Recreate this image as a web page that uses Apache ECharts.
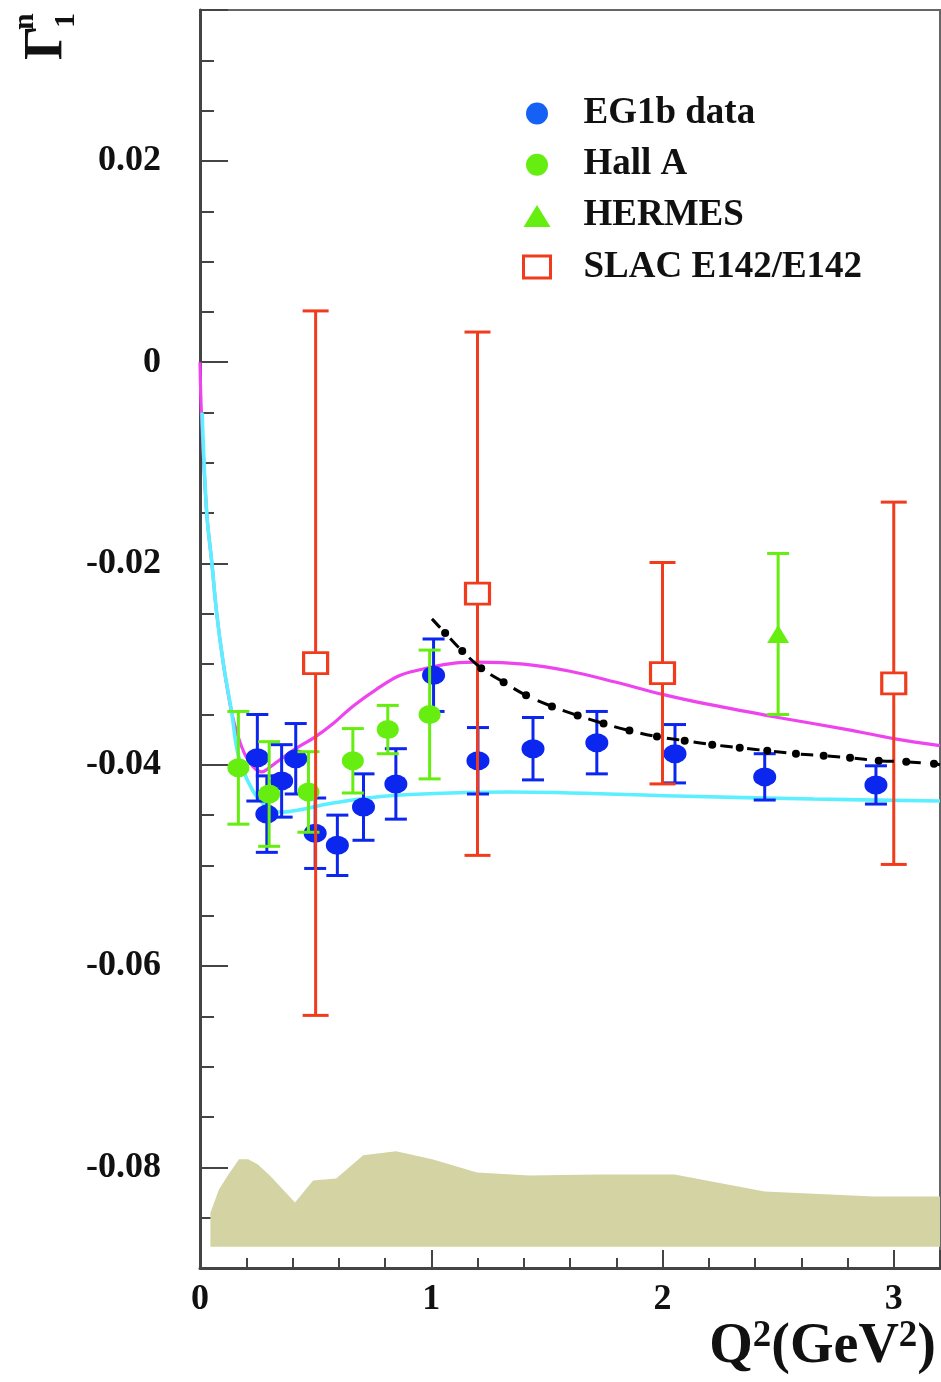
<!DOCTYPE html>
<html>
<head>
<meta charset="utf-8">
<script src="https://cdn.jsdelivr.net/npm/echarts@6/dist/echarts.min.js"></script>
<style>html,body{margin:0;padding:0;background:#fff;}#chart{width:941px;height:1382px;}</style>
</head>
<body>
<div id="chart"></div>
<script>
// ---------- data ----------
// EG1b data: [Q2, Gamma1n, stat error]
const eg1bPoints = [
  [0.248,-0.0393,0.0043],[0.289,-0.0449,0.0038],[0.353,-0.0416,0.0036],[0.414,-0.0394,0.0035],
  [0.498,-0.0468,0.0035],[0.594,-0.0480,0.0030],[0.707,-0.0442,0.0033],[0.847,-0.0419,0.0035],
  [1.010,-0.0311,0.0036],[1.202,-0.0396,0.0033],[1.440,-0.0384,0.0031],[1.716,-0.0378,0.0031],
  [2.054,-0.0389,0.0029],[2.442,-0.0412,0.0023],[2.923,-0.0420,0.0019]
];
const hallAPoints = [
  [0.166,-0.0403,0.0056],[0.299,-0.0429,0.0052],[0.469,-0.0427,0.0040],
  [0.661,-0.0396,0.0032],[0.812,-0.0365,0.0024],[0.993,-0.0350,0.0064]
];
const hermesPoints = [[2.5,-0.0270,0.0080]];
const slacPoints = [[0.5,-0.0299,0.035],[1.2,-0.0230,0.026],[2.0,-0.0309,0.011],[3.0,-0.0319,0.018]];

// systematic error band (top edge), bottom edge constant
const bandQ2  = [0.045,0.082,0.123,0.169,0.208,0.249,0.302,0.411,0.489,0.589,0.706,0.848,1.004,1.198,1.424,1.719,2.052,2.442,2.913,3.2];
const bandTop = [-0.0845,-0.0822,-0.0807,-0.0792,-0.0792,-0.0797,-0.0808,-0.0835,-0.0813,-0.0811,-0.0788,-0.0784,-0.0792,-0.0805,-0.0808,-0.0807,-0.0807,-0.0824,-0.0829,-0.0829];
const bandBase = -0.0879;

// magenta model curve
const magQ2  = [0,0.006,0.029,0.051,0.072,0.1,0.137,0.165,0.195,0.23,0.267,0.31,0.4,0.5,0.576,0.66,0.763,0.866,1.0,1.1,1.2,1.4,1.6,1.8,2.0,2.2,2.5,2.8,3.0,3.2];
const magVal = [0,-0.005,-0.015,-0.0199,-0.0249,-0.0298,-0.0348,-0.0372,-0.0390,-0.0402,-0.0407,-0.0401,-0.0386,-0.0372,-0.0359,-0.0342,-0.0325,-0.0311,-0.0303,-0.0299,-0.0298,-0.0300,-0.0307,-0.0318,-0.0330,-0.0340,-0.0353,-0.0365,-0.0374,-0.0381];

// cyan model curve
const cyQ2  = [0.009,0.029,0.051,0.072,0.1,0.137,0.166,0.224,0.281,0.354,0.426,0.527,0.576,0.722,0.866,1.082,1.342,2.058,2.654,3.2];
const cyVal = [-0.005,-0.015,-0.0199,-0.0249,-0.0298,-0.0348,-0.0391,-0.0424,-0.0440,-0.0447,-0.0445,-0.0440,-0.0438,-0.0433,-0.0430,-0.0428,-0.0427,-0.0431,-0.0434,-0.0436];

// black dash-dotted curve
const blkQ2  = [1.003,1.060,1.134,1.216,1.313,1.410,1.522,1.633,1.745,1.857,1.976,2.096,2.215,2.334,2.453,2.577,2.697,2.811,2.935,3.054,3.174,3.2];
const blkVal = [-0.0255,-0.0269,-0.0287,-0.0304,-0.0318,-0.0331,-0.0342,-0.0351,-0.0359,-0.0366,-0.0372,-0.0376,-0.0380,-0.0383,-0.0386,-0.0389,-0.0391,-0.0393,-0.0396,-0.0397,-0.0399,-0.0400];

// axes
const xRange = [0, 3.2];
const yRange = [-0.09, 0.035];
const xTickLabels = ['0','1','2','3'];
const yTickLabels = ['0.02','0','-0.02','-0.04','-0.06','-0.08'];
const legendNames = ['EG1b data','Hall A','HERMES','SLAC E142/E142'];

// ---------- chart ----------
const FONT = '"Liberation Serif", "Times New Roman", serif';
const C_BLUE = '#0b26ee', C_GREEN = '#66ee11', C_RED = '#f03c1c', C_MAG = '#ee44ee', C_CYAN = '#5cefff', C_BAND = '#d3d3a3';
const ELLIPSE = 'path://M0,10 A10,10 0 1,1 20,10 A10,10 0 1,1 0,10 Z';

function errData(pts) { return pts.map(p => [p[0], p[1], p[1] - p[2], p[1] + p[2]]); }
function errRender(capW, color, lw) {
  return function (params, api) {
    const x = api.value(0), lo = api.value(2), hi = api.value(3);
    const a = api.coord([x, hi]), b = api.coord([x, lo]);
    const h = capW / 2, st = { stroke: color, lineWidth: lw };
    return { type: 'group', children: [
      { type: 'line', shape: { x1: a[0], y1: a[1], x2: b[0], y2: b[1] }, style: st },
      { type: 'line', shape: { x1: a[0] - h, y1: a[1], x2: a[0] + h, y2: a[1] }, style: st },
      { type: 'line', shape: { x1: b[0] - h, y1: b[1], x2: b[0] + h, y2: b[1] }, style: st }
    ]};
  };
}
function zip(xs, ys) { return xs.map((x, i) => [x, ys[i]]); }

const xLabelFmt = v => { const r = Math.round(v); return (Math.abs(v - r) < 1e-6 && xTickLabels.indexOf(String(r)) >= 0) ? String(r) : ''; };
const yLabelFmt = v => {
  const r = Math.round(v * 1000);
  if (r % 20 !== 0) return '';
  const s = r === 0 ? '0' : (r / 1000).toFixed(2);
  return yTickLabels.indexOf(s) >= 0 ? s : '';
};

const axisCol = '#444';
const chart = echarts.init(document.getElementById('chart'), null, { renderer: 'canvas' });
chart.setOption({
  animation: false,
  backgroundColor: '#fff',
  grid: { left: 200, right: 1, top: 10, bottom: 114, show: true, borderColor: '#666', borderWidth: 2,
          containLabel: false, outerBoundsMode: 'none' },
  xAxis: [
    { type: 'value', min: xRange[0], max: xRange[1], interval: 0.2, position: 'bottom',
      axisLine: { show: true, onZero: false, lineStyle: { color: axisCol, width: 3 } },
      axisTick: { inside: true, length: 10, lineStyle: { color: axisCol, width: 2 } },
      axisLabel: { formatter: xLabelFmt, margin: 14, fontFamily: FONT, fontWeight: 'bold', fontSize: 36, color: '#111', showMaxLabel: true },
      splitLine: { show: false } },
    { type: 'value', min: xRange[0], max: xRange[1], interval: 1, position: 'bottom',
      axisLine: { show: false, onZero: false }, axisLabel: { show: false }, splitLine: { show: false },
      axisTick: { inside: true, length: 18, lineStyle: { color: axisCol, width: 2 } } }
  ],
  yAxis: [
    { type: 'value', min: yRange[0], max: yRange[1], interval: 0.005, position: 'left',
      axisLine: { show: true, onZero: false, lineStyle: { color: axisCol, width: 3 } },
      axisTick: { inside: true, length: 14, lineStyle: { color: axisCol, width: 2 } },
      axisLabel: { formatter: yLabelFmt, margin: 39, fontFamily: FONT, fontWeight: 'bold', fontSize: 36, color: '#111' },
      splitLine: { show: false } },
    { type: 'value', min: yRange[0], max: yRange[1], splitNumber: 6, position: 'left',
      axisLine: { show: false, onZero: false }, axisLabel: { show: false }, splitLine: { show: false },
      axisTick: { inside: true, length: 28, lineStyle: { color: axisCol, width: 2 } } }
  ],
  legend: {
    orient: 'vertical', left: 517, top: 90, itemWidth: 27, itemHeight: 22, itemGap: 14.2, selectedMode: false,
    textStyle: { fontFamily: FONT, fontWeight: 'bold', fontSize: 37, color: '#111', lineHeight: 35, padding: [0, 0, 0, 28] },
    data: [
      { name: legendNames[0], icon: ELLIPSE, itemStyle: { color: '#1560f5', borderWidth: 0, opacity: 1 } },
      { name: legendNames[1], icon: ELLIPSE, itemStyle: { color: C_GREEN, borderWidth: 0, opacity: 1 } },
      { name: legendNames[2], icon: 'triangle', itemStyle: { color: C_GREEN, borderWidth: 0, opacity: 1 } },
      { name: legendNames[3], icon: 'rect', itemStyle: { color: '#ffffff', borderColor: C_RED, borderWidth: 3, opacity: 1 } }
    ]
  },
  graphic: [
    { type: 'group', x: 47, y: 60, rotation: Math.PI / 2, silent: true,
      children: [
        { type: 'text', x: 0, y: 0, style: { text: 'Γ', font: 'bold 54px ' + FONT, fill: '#111', align: 'left', verticalAlign: 'middle' } },
        { type: 'text', x: 30, y: -22, style: { text: 'n', font: 'bold 30px ' + FONT, fill: '#111', align: 'left', verticalAlign: 'middle' } },
        { type: 'text', x: 32, y: 19, style: { text: '1', font: 'bold 30px ' + FONT, fill: '#111', align: 'left', verticalAlign: 'middle' } }
      ] },
    { type: 'text', x: 936, y: 1318, silent: true,
      style: { text: '{b|Q}{s|2}{b|(GeV}{s|2}{b|)}', align: 'right', verticalAlign: 'top',
        rich: {
          b: { fontFamily: FONT, fontWeight: 'bold', fontSize: 56, fill: '#111', lineHeight: 58, verticalAlign: 'bottom' },
          s: { fontFamily: FONT, fontWeight: 'bold', fontSize: 37, fill: '#111', lineHeight: 36, verticalAlign: 'top' }
        } } }
  ],
  series: [
    { name: 'band', type: 'custom', z: 1, silent: true, clip: true,
      data: zip(bandQ2, bandTop),
      renderItem: function (params, api) {
        if (params.dataIndex !== 0) return null;
        const pts = bandQ2.map((q, i) => api.coord([q, bandTop[i]]));
        pts.push(api.coord([bandQ2[bandQ2.length - 1], bandBase]));
        pts.push(api.coord([bandQ2[0], bandBase]));
        return { type: 'polygon', shape: { points: pts }, style: { fill: C_BAND } };
      } },
    { name: 'model A', type: 'line', z: 2, silent: true, showSymbol: false, smooth: 0.35,
      data: zip(magQ2, magVal), lineStyle: { color: C_MAG, width: 3.2 } },
    { name: 'model B', type: 'line', z: 3, silent: true, showSymbol: false, smooth: 0.35,
      data: zip(cyQ2, cyVal), lineStyle: { color: C_CYAN, width: 3.6 } },
    { name: legendNames[0], type: 'custom', z: 4, data: errData(eg1bPoints), renderItem: errRender(22, C_BLUE, 3), itemStyle: { color: C_BLUE } },
    { name: legendNames[0], type: 'scatter', z: 4, data: eg1bPoints.map(p => [p[0], p[1]]), symbol: 'circle', symbolSize: [23, 19], itemStyle: { color: C_BLUE, opacity: 1 } },
    { name: legendNames[1], type: 'custom', z: 5, data: errData(hallAPoints), renderItem: errRender(22, C_GREEN, 3), itemStyle: { color: C_GREEN } },
    { name: legendNames[1], type: 'scatter', z: 5, data: hallAPoints.map(p => [p[0], p[1]]), symbol: 'circle', symbolSize: [22, 19], itemStyle: { color: C_GREEN, opacity: 1 } },
    { name: legendNames[2], type: 'custom', z: 5, data: errData(hermesPoints), renderItem: errRender(22, C_GREEN, 3), itemStyle: { color: C_GREEN } },
    { name: legendNames[2], type: 'scatter', z: 5, data: hermesPoints.map(p => [p[0], p[1]]), symbol: 'triangle', symbolSize: [22, 18], itemStyle: { color: C_GREEN, opacity: 1 } },
    { name: legendNames[3], type: 'custom', z: 6, data: errData(slacPoints), renderItem: errRender(26, C_RED, 3), itemStyle: { color: C_RED } },
    { name: legendNames[3], type: 'scatter', z: 6, data: slacPoints.map(p => [p[0], p[1]]), symbol: 'rect', symbolSize: [24, 21],
      itemStyle: { color: '#ffffff', borderColor: C_RED, borderWidth: 3, opacity: 1 } },
    { name: 'model C', type: 'line', z: 7, silent: true, smooth: 0.3,
      data: blkQ2.map((q, i) => ({ value: [q, blkVal[i]], symbolSize: (i === 0 || i === blkQ2.length - 1) ? 0 : 8 })),
      symbol: 'circle', showSymbol: true, itemStyle: { color: '#000', opacity: 1 },
      lineStyle: { color: '#000', width: 3, type: [12, 15] } }
  ]
});
</script>
</body>
</html>
